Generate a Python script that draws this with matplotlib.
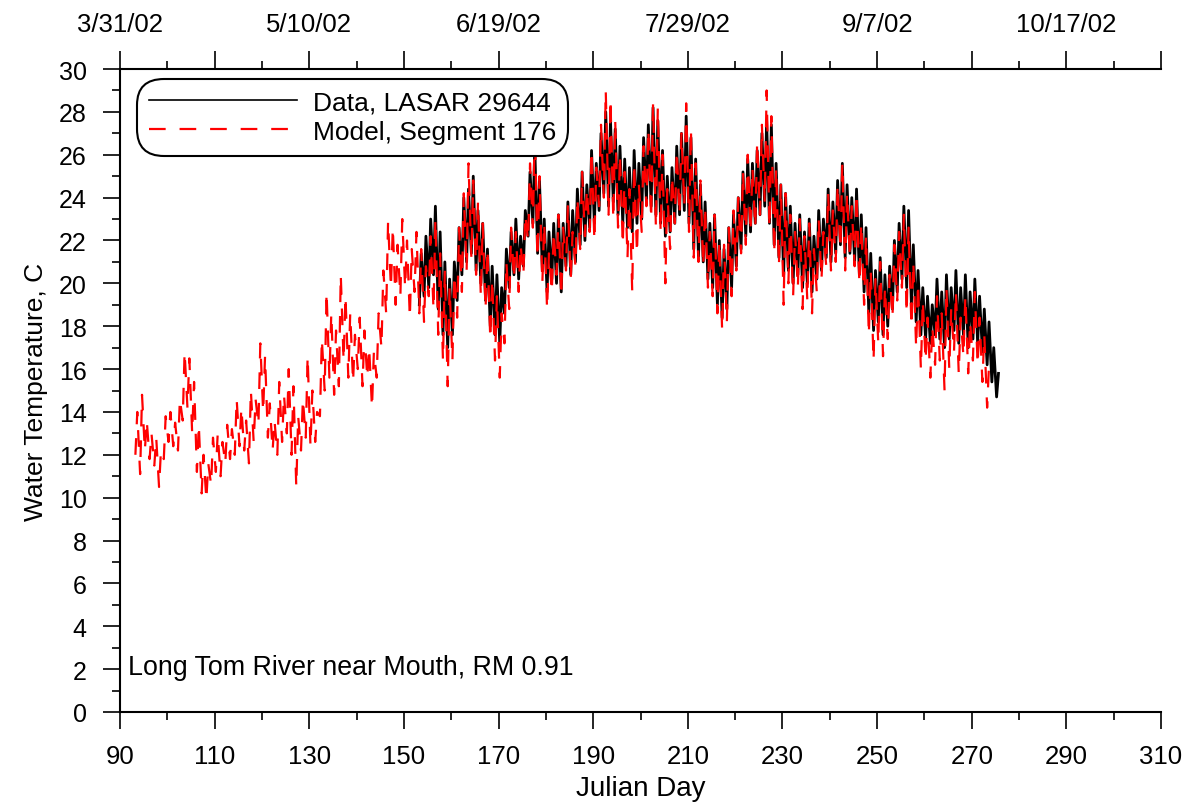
import matplotlib
matplotlib.use("Agg")
import matplotlib.pyplot as plt
import numpy as np

plt.rcParams['font.family'] = ['Liberation Sans', 'DejaVu Sans']
plt.rcParams['lines.scale_dashes'] = False

# model (segment 176): daily max / min, days 93..273
model_day0 = 93
model_max = [14.0, 14.8, 13.6, 13.0, 12.8, 12.2, 13.8, 14.0, 13.5, 14.6,
             16.8, 16.5, 15.4, 13.4, 12.0, 11.6, 12.8, 13.0, 12.6, 13.4,
             13.2, 14.6, 14.2, 13.6, 15.0, 14.6, 17.2, 16.6, 14.4, 13.6,
             15.4, 14.8, 16.0, 15.2, 13.8, 14.6, 16.6, 15.0, 14.0, 17.4,
             19.6, 18.6, 17.8, 20.4, 19.4, 18.6, 17.6, 18.4, 17.8, 17.0,
             16.8, 18.6, 20.6, 22.9, 22.6, 21.8, 23.0, 22.0, 21.6, 22.4,
             21.6, 20.8, 22.2, 23.0, 21.4, 20.6, 19.8, 20.4, 22.6, 24.2,
             25.6, 24.8, 23.8, 22.8, 21.6, 20.2, 19.4, 18.6, 21.0, 22.6,
             22.4, 21.8, 23.2, 25.6, 27.2, 25.0, 22.8, 21.4, 22.4, 23.2,
             22.6, 23.6, 22.4, 24.0, 25.2, 24.4, 26.2, 25.4, 27.4, 29.0,
             28.6, 27.6, 26.0, 25.2, 24.4, 25.6, 24.6, 26.4, 27.2, 28.4,
             28.2, 26.0, 24.4, 25.0, 26.2, 27.0, 28.4, 27.2, 25.6, 24.8,
             23.6, 22.4, 23.2, 22.0, 21.8, 22.6, 23.4, 24.0, 25.2, 26.0,
             25.4, 26.6, 27.4, 29.0, 27.8, 25.4, 24.6, 24.2, 23.2, 22.4,
             23.0, 22.2, 22.8, 21.6, 23.0, 22.4, 24.2, 23.4, 24.6, 25.6,
             24.2, 23.6, 24.2, 22.8, 22.2, 20.6, 20.2, 21.0, 19.8, 20.4,
             21.8, 22.4, 23.2, 22.6, 21.0, 20.0, 19.2, 18.4, 18.0, 19.4,
             18.6, 19.8, 18.8, 19.6, 18.4, 19.4, 18.2, 19.6, 18.4, 17.6,
             16.2]
model_min = [12.0, 11.1, 12.2, 11.8, 11.5, 10.5, 11.8, 12.6, 12.4, 12.2,
             13.6, 14.2, 13.0, 11.2, 10.2, 9.9, 10.6, 11.2, 11.0, 11.6,
             11.8, 12.0, 12.4, 12.2, 11.6, 12.6, 13.4, 14.0, 12.8, 12.2,
             12.0, 12.6, 13.0, 12.0, 10.5, 12.2, 12.8, 12.4, 12.6, 13.8,
             15.0, 15.6, 14.8, 15.2, 16.4, 15.6, 15.4, 16.0, 15.2, 15.6,
             14.2, 15.6, 17.0, 18.6, 19.8, 19.0, 19.4, 19.8, 18.4, 19.6,
             18.6, 18.2, 19.4, 18.8, 17.6, 16.4, 15.2, 16.4, 18.4, 19.6,
             20.6, 21.2, 20.4, 19.4, 18.8, 17.4, 16.4, 15.6, 17.2, 18.8,
             20.2, 19.6, 20.4, 22.0, 22.6, 21.2, 20.0, 18.8, 19.6, 20.4,
             19.4, 20.6, 20.2, 20.8, 21.6, 22.2, 22.4, 22.0, 23.6, 24.0,
             23.2, 23.0, 22.6, 21.8, 21.2, 19.6, 21.4, 22.4, 23.6, 23.0,
             22.6, 22.4, 20.0, 21.6, 22.8, 23.2, 23.6, 22.4, 21.2, 21.0,
             20.8, 19.8, 19.4, 18.6, 17.8, 18.2, 19.4, 20.6, 21.4, 21.8,
             22.4, 22.6, 23.2, 23.8, 22.6, 21.4, 20.8, 19.0, 20.0, 19.4,
             19.8, 18.8, 19.2, 18.6, 19.6, 20.2, 20.8, 20.6, 21.0, 21.6,
             20.6, 21.2, 20.8, 20.0, 19.0, 17.6, 16.4, 17.2, 16.6, 17.4,
             18.4, 19.2, 19.8, 18.6, 18.0, 17.0, 16.0, 16.4, 15.6, 16.2,
             16.4, 15.0, 16.0, 16.8, 15.8, 16.6, 15.8, 16.4, 16.2, 15.4,
             14.2]

# data (LASAR 29644): daily max / min, days 153..275
data_day0 = 153
data_max = [21.4, 22.2, 23.0, 23.6, 22.4, 21.0, 20.2, 21.0, 22.6, 24.0,
            24.4, 25.0, 23.4, 22.8, 21.6, 20.8, 20.4, 19.8, 21.6, 22.4,
            23.0, 22.2, 23.4, 25.2, 26.4, 24.8, 23.0, 22.4, 22.8, 23.2,
            22.8, 23.8, 23.4, 24.4, 25.2, 24.6, 26.2, 25.6, 27.0, 28.0,
            27.6, 27.2, 26.4, 25.8, 25.4, 26.2, 25.6, 26.8, 27.4, 28.2,
            27.6, 26.2, 25.0, 25.4, 26.4, 27.0, 27.8, 26.8, 25.8, 24.6,
            23.8, 22.8, 23.2, 22.0, 21.6, 22.6, 23.2, 24.0, 25.2, 25.8,
            25.6, 26.2, 27.0, 27.6, 27.4, 25.6, 24.6, 24.2, 23.6, 22.8,
            23.2, 22.4, 23.0, 22.2, 23.4, 23.0, 24.4, 23.8, 24.8, 25.6,
            24.6, 24.0, 24.4, 23.2, 22.6, 21.4, 20.6, 21.2, 20.4, 20.8,
            22.0, 22.8, 23.6, 23.4, 21.8, 20.6, 19.8, 19.4, 19.0, 20.2,
            19.6, 20.4, 19.8, 20.6, 19.8, 20.4, 19.6, 20.2, 19.4, 18.8,
            18.2, 17.0, 15.8]
data_min = [19.0, 19.4, 19.8, 20.4, 18.8, 17.6, 17.0, 17.6, 19.2, 20.4,
            21.0, 21.4, 20.6, 20.0, 19.2, 18.0, 17.6, 17.2, 18.6, 19.8,
            20.4, 20.2, 20.8, 22.2, 22.8, 21.4, 20.6, 19.6, 20.2, 20.0,
            19.6, 20.8, 20.4, 21.0, 21.8, 22.0, 22.6, 22.8, 23.4, 24.2,
            23.6, 23.8, 23.2, 22.8, 22.6, 22.4, 22.8, 23.0, 23.8, 23.6,
            23.2, 22.8, 22.2, 22.4, 22.8, 23.2, 23.4, 22.8, 21.6, 21.2,
            21.0, 20.2, 19.8, 19.0, 18.4, 18.8, 19.8, 20.8, 21.6, 22.2,
            22.4, 22.8, 23.2, 23.6, 22.8, 21.8, 21.2, 20.4, 20.6, 20.0,
            20.4, 19.8, 20.0, 19.6, 20.2, 20.6, 21.2, 21.0, 21.4, 21.8,
            21.2, 21.4, 21.0, 20.4, 19.6, 18.6, 17.8, 18.2, 17.6, 18.0,
            18.8, 19.6, 20.2, 19.8, 19.0, 18.2, 17.6, 17.4, 17.2, 17.6,
            17.4, 17.0, 17.4, 17.8, 17.2, 17.6, 17.0, 17.4, 17.2, 16.8,
            16.2, 15.4, 14.7]

top_dates = ['3/31/02', '', '5/10/02', '', '6/19/02', '', '7/29/02', '',
             '9/7/02', '', '10/17/02', '']


def diurnal(day0, vmax, vmin):
    days = day0 + np.arange(len(vmax))
    t = np.column_stack([days + 0.25, days + 0.65]).ravel()
    v = np.column_stack([vmin, vmax]).ravel()
    return t, v


td, vd = diurnal(data_day0, data_max, data_min)
tm, vm = diurnal(model_day0, model_max, model_min)

fig = plt.figure(figsize=(11.93, 8.04), dpi=100)
ax = fig.add_axes([0.1006, 0.1132, 0.8726, 0.7997])

ax.plot(td, vd, color='black', lw=2.0, label='Data, LASAR 29644')
ax.plot(tm, vm, color='red', lw=1.6, dashes=(12, 10),
        label='Model, Segment 176')

ax.set_xlim(90, 310)
ax.set_ylim(0, 30)
ax.set_xticks(range(90, 311, 20))
ax.set_xticks(range(100, 310, 20), minor=True)
ax.set_yticks(range(0, 31, 2))
ax.set_yticks(range(1, 30, 2), minor=True)
ax.tick_params(which='major', direction='out', length=12, width=1.2,
               labelsize=18.5, pad=11)
ax.tick_params(which='minor', direction='out', length=6, width=1.2)
ax.tick_params(axis='y', which='major', pad=12, labelsize=18)
for s in ['left', 'bottom']:
    ax.spines[s].set_linewidth(1.5)
ax.spines['right'].set_visible(False)
ax.spines['top'].set_visible(False)

ax2 = ax.twiny()
ax2.set_xlim(90, 310)
ax2.set_xticks(range(90, 311, 20))
ax2.set_xticklabels(top_dates)
ax2.set_xticks(range(100, 310, 20), minor=True)
ax2.tick_params(which='major', direction='out', length=13, width=1.2,
                labelsize=18.5, pad=11)
ax2.tick_params(which='minor', direction='out', length=6, width=1.2)
for s in ['left', 'right', 'bottom']:
    ax2.spines[s].set_visible(False)
ax2.spines['top'].set_linewidth(1.5)

ax.set_xlabel('Julian Day', fontsize=20, labelpad=5)
ax.set_ylabel('Water Temperature, C', fontsize=19, labelpad=8)

ax.text(91.7, 2.1, 'Long Tom River near Mouth, RM 0.91', fontsize=19.3,
        va='center', ha='left')

leg = ax.legend(loc='upper left', bbox_to_anchor=(0.0231, 0.975),
                borderaxespad=0, fontsize=19, handlelength=5.6,
                handletextpad=0.6, labelspacing=0.2, borderpad=0.2,
                fancybox=True, framealpha=1, edgecolor='black')
leg.get_frame().set_linewidth(1.5)
leg.get_frame().set_boxstyle('round', pad=0.25, rounding_size=1.0)
leg.get_lines()[0].set_linewidth(1.2)

fig.savefig('out.png', dpi=100)
